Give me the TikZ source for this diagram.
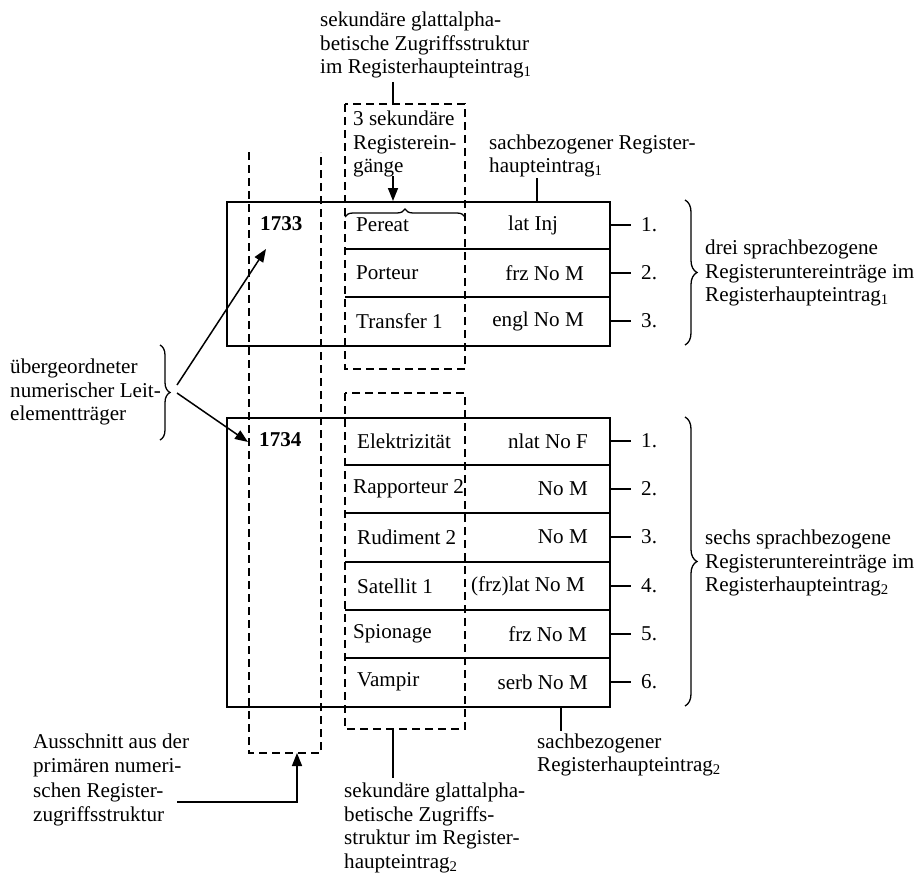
\documentclass[tikz,border=0pt]{standalone}
\usepackage{fontspec}
\setmainfont{Liberation Serif}
\usetikzlibrary{arrows.meta,decorations.pathreplacing}
\newcommand\dfs{\fontsize{21.1}{23.5}\selectfont}
\newcommand\dfsw{\fontsize{21.1}{24.5}\selectfont}
\begin{document}
\begin{tikzpicture}[x=1pt,y=-1pt,
  every node/.style={font=\dfs, inner sep=0pt},
  txt/.style={anchor=west, align=left},
  rtxt/.style={anchor=east},
  solidline/.style={line width=1.5pt},
  dashline/.style={line width=1.5pt, dash pattern=on 8pt off 5pt},
  arr/.style={line width=1.5pt, -{Triangle[length=13pt,width=10pt]}},
  brc/.style={line width=1.3pt, decorate, decoration={brace, amplitude=#1}},
]
\useasboundingbox (0,0) rectangle (919,875);

% boxes
\node[draw, solidline, minimum width=383pt, minimum height=144pt, anchor=north west] (box1) at (226,201) {};
\node[draw, solidline, minimum width=383pt, minimum height=289pt, anchor=north west] (box2) at (226,417) {};
\foreach \y in {249,297} \draw[solidline] (345,\y) -- (609,\y);
\foreach \y in {465,513,562,610,658} \draw[solidline] (345,\y) -- (609,\y);

% dashed structures
\draw[dashline] (249,152) -- (249,753) -- (321,753) -- (321,152);
\draw[dashline] (345,104) rectangle (465,369);
\draw[dashline] (345,393) rectangle (465,729);

% numbers
\node[txt] (n1733) at (260,224) {\textbf{1733}};
\node[txt] (n1734) at (259,440) {\textbf{1734}};

% upper rows
\node[txt] (r11) at (356,225) {Pereat};
\node[txt] (r12) at (356,273) {Porteur};
\node[txt] (r13) at (356,321) {Transfer 1};
\node[txt] (g11) at (508,225) {lat Inj};
\node[rtxt] (g12) at (584,273) {frz No M};
\node[rtxt] (g13) at (584,321) {engl No M};

% lower rows
\node[txt] (r21) at (357,441) {Elektrizität};
\node[txt] (r22) at (353,489) {Rapporteur 2};
\node[txt] (r23) at (357,537) {Rudiment 2};
\node[txt] (r24) at (357,586) {Satellit 1};
\node[txt] (r25) at (353,634) {Spionage};
\node[txt] (r26) at (357,682) {Vampir};
\node[rtxt] (g21) at (588,441) {nlat No F};
\node[rtxt] (g22) at (588,489) {No M};
\node[rtxt] (g23) at (588,537) {No M};
\node[rtxt] (g24) at (585,586) {(frz)lat No M};
\node[rtxt] (g25) at (587,634) {frz No M};
\node[rtxt] (g26) at (588,682) {serb No M};

% enumerations
\foreach \y/\t [count=\i] in {225/1.,273/2.,321/3.} {
  \coordinate (ua\i) at (609,\y); \coordinate (ub\i) at (631,\y);
  \draw[solidline] (ua\i) -- (ub\i);
  \node[txt] (un\i) at (641,\y) {\t};
}
\foreach \y/\t [count=\i] in {441/1.,489/2.,537/3.,586/4.,634/5.,682/6.} {
  \coordinate (la\i) at (609,\y); \coordinate (lb\i) at (631,\y);
  \draw[solidline] (la\i) -- (lb\i);
  \node[txt] (ln\i) at (641,\y) {\t};
}

% right braces
\coordinate (rb1t) at (685,200); \coordinate (rb1b) at (685,345);
\draw[brc=12pt] (rb1t) -- (rb1b);
\node[txt] (drei) at (705,273) {drei sprachbezogene\\Registeruntereinträge im\\Registerhaupteintrag\textsubscript{1}};
\coordinate (rb2t) at (685,417); \coordinate (rb2b) at (685,706);
\draw[brc=12pt] (rb2t) -- (rb2b);
\node[txt] (sechs) at (705,563) {sechs sprachbezogene\\Registeruntereinträge im\\Registerhaupteintrag\textsubscript{2}};

% left brace and arrows
\node[txt] (leit) at (10,392) {übergeordneter\\numerischer Leit-\\elementträger};
\coordinate (lbt) at (160,345); \coordinate (lbb) at (160,440);
\draw[brc=10pt] (lbt) -- (lbb);
\coordinate (la) at (177,385); \coordinate (lat) at (266,249);
\coordinate (lc) at (177,393); \coordinate (lct) at (248,442);
\draw[arr] (la) -- (lat);
\draw[arr] (lc) -- (lct);

% top labels
\node[txt] (sek1) at (320,45) {sekundäre glattalpha-\\betische Zugriffsstruktur\\im Registerhaupteintrag\textsubscript{1}};
\coordinate (s1a) at (393,82); \coordinate (s1b) at (393,104);
\draw[solidline] (s1a) -- (s1b);
\node[txt] (drei3) at (353,144) {3 sekundäre\\Registerein-\\gänge};
\coordinate (d3a) at (393,176); \coordinate (d3b) at (393,201);
\draw[arr] (d3a) -- (d3b);
\coordinate (hbl) at (345,217); \coordinate (hbr) at (465,217);
\draw[brc=8pt] (hbl) -- (hbr);
\node[txt] (sach1) at (489,156) {sachbezogener Register-\\haupteintrag\textsubscript{1}};
\coordinate (sa1) at (537,178); \coordinate (sa1b) at (537,201);
\draw[solidline] (sa1) -- (sa1b);

% bottom labels
\node[txt] (sach2) at (537,755) {sachbezogener\\Registerhaupteintrag\textsubscript{2}};
\coordinate (sa2) at (561,706); \coordinate (sa2b) at (561,731);
\draw[solidline] (sa2) -- (sa2b);
\node[txt] (sek2) at (344,828) {sekundäre glattalpha-\\betische Zugriffs-\\struktur im Register-\\haupteintrag\textsubscript{2}};
\coordinate (s2a) at (393,729); \coordinate (s2b) at (393,778);
\draw[solidline] (s2a) -- (s2b);
\node[txt, font=\dfsw] (aus) at (33,780) {Ausschnitt aus der\\primären numeri-\\schen Register-\\zugriffsstruktur};
\coordinate (au1) at (177,802); \coordinate (au2) at (297,802); \coordinate (au3) at (297,753);
\draw[arr] (au1) -- (au2) -- (au3);
\end{tikzpicture}
\end{document}
